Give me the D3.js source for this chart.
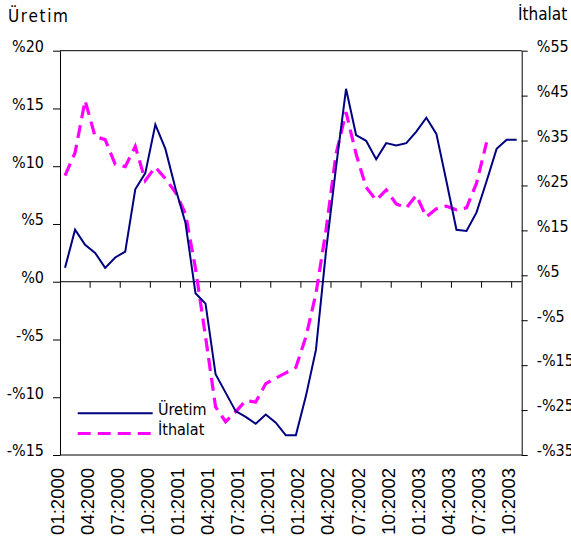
<!DOCTYPE html>
<html>
<head>
<meta charset="utf-8">
<script src="https://cdn.jsdelivr.net/npm/d3@7"></script>
<style>
  html, body { margin: 0; padding: 0; background: #fff; }
  svg { display: block; }
  text { fill: #000; }
  .hf { font-family: "DejaVu Sans Condensed", "DejaVu Sans", "Liberation Sans", sans-serif; }
  .af { font-family: "Liberation Sans", Arial, sans-serif; }
</style>
</head>
<body>
<svg id="chart" width="571" height="541"></svg>
<script>
const months = [
  "01:2000","02:2000","03:2000","04:2000","05:2000","06:2000","07:2000","08:2000","09:2000","10:2000","11:2000","12:2000",
  "01:2001","02:2001","03:2001","04:2001","05:2001","06:2001","07:2001","08:2001","09:2001","10:2001","11:2001","12:2001",
  "01:2002","02:2002","03:2002","04:2002","05:2002","06:2002","07:2002","08:2002","09:2002","10:2002","11:2002","12:2002",
  "01:2003","02:2003","03:2003","04:2003","05:2003","06:2003","07:2003","08:2003","09:2003","10:2003"
];
// Üretim (left axis, %)
const uretim = [
  1.2, 4.5, 3.2, 2.5, 1.2, 2.1, 2.6, 8.0, 9.4, 13.6, 11.5, 8.1,
  5.1, -1.0, -1.9, -8.0, -9.6, -11.2, -11.7, -12.3, -11.5, -12.2, -13.3, -13.3,
  -9.9, -5.9, 2.6, 9.9, 16.7, 12.7, 12.2, 10.6, 12.0, 11.8, 12.0, 13.0,
  14.2, 12.8, 8.7, 4.5, 4.4, 6.0, 8.7, 11.5, 12.3, 12.3
];
// İthalat (right axis, %)
const ithalat = [
  27.2, 32.3, 43.9, 35.9, 35.2, 29.7, 29.2, 33.7, 26.1, 29.1, 26.5, 23.5,
  18.7, 6.5, -8.7, -24.3, -27.6, -25.4, -22.9, -23.2, -19.1, -17.9, -16.7, -15.5,
  -8.7, 0.9, 15.0, 32.0, 41.3, 32.0, 24.6, 21.7, 24.0, 20.9, 20.0, 22.8,
  18.0, 19.8, 20.4, 19.6, 20.0, 25.5, 34.6
];
const leftTicks = [20, 15, 10, 5, 0, -5, -10, -15];
const rightTicks = [55, 45, 35, 25, 15, 5, -5, -15, -25, -35];
const xLabels = ["01:2000","04:2000","07:2000","10:2000","01:2001","04:2001","07:2001","10:2001",
                 "01:2002","04:2002","07:2002","10:2002","01:2003","04:2003","07:2003","10:2003"];
const seriesNames = ["Üretim", "İthalat"];
const leftTitle = "Üretim";
const rightTitle = "İthalat";

const svg = d3.select("#chart");
const L = 60, R = 521.7, T = 50.7, B = 455;

const x = d3.scaleBand().domain(months).range([L, R]).paddingInner(0).paddingOuter(0);
const cx = m => x(m) + x.bandwidth() / 2;
const yL = d3.scaleLinear().domain([-15, 20]).range([B, T]);
const yR = d3.scaleLinear().domain([-35, 55]).range([B, T]);
const fmt = v => v < 0 ? "-%" + (-v) : "%" + v;

// frame top/bottom
svg.append("line").attr("x1", L).attr("x2", R).attr("y1", T).attr("y2", T).attr("stroke", "#000");
svg.append("line").attr("x1", L).attr("x2", R).attr("y1", B).attr("y2", B).attr("stroke", "#000");

// left axis
const gL = svg.append("g").attr("transform", `translate(${L},0)`)
  .call(d3.axisLeft(yL).tickValues(leftTicks).tickFormat(fmt).tickSize(7).tickPadding(9).tickSizeOuter(0));
// right axis
const gR = svg.append("g").attr("transform", `translate(${R},0)`)
  .call(d3.axisRight(yR).tickValues(rightTicks).tickFormat(fmt).tickSize(6).tickPadding(9).tickSizeOuter(0));
[gL, gR].forEach(g => {
  g.attr("font-family", null).attr("font-size", null);
  g.selectAll("path.domain").attr("stroke", "#000").attr("stroke-width", 1);
  g.selectAll(".tick line").attr("stroke", "#000");
  g.selectAll(".tick text").attr("dy", "0.05em").attr("class", "hf").style("font-size", "16px");
});

// zero line with category ticks
const y0 = yL(0);
svg.append("line").attr("x1", L).attr("x2", R).attr("y1", y0).attr("y2", y0).attr("stroke", "#000");
const tickMonths = months.filter((m, i) => i % 3 === 0 && i > 0);
svg.append("g").selectAll("line").data(tickMonths).join("line")
  .attr("x1", d => x(d)).attr("x2", d => x(d)).attr("y1", y0).attr("y2", y0 + 6).attr("stroke", "#000");

// x labels
svg.append("g").selectAll("text").data(xLabels).join("text")
  .attr("class", "af")
  .attr("transform", d => `translate(${x(d) + 3.5},468) rotate(-90)`)
  .attr("text-anchor", "end")
  .style("font-size", "18.5px")
  .text(d => d);

// lines
const lineL = d3.line().x((d, i) => cx(months[i])).y(d => yL(d));
const lineR = d3.line().x((d, i) => cx(months[i])).y(d => yR(d));
svg.append("path").datum(ithalat).attr("d", lineR).attr("fill", "none")
  .attr("stroke", "#FF00FF").attr("stroke-width", 3.2).attr("stroke-dasharray", "13,7");
svg.append("path").datum(uretim).attr("d", lineL).attr("fill", "none")
  .attr("stroke", "#000080").attr("stroke-width", 2);

// titles
svg.append("text").attr("class", "hf").attr("x", 8).attr("y", 21.5).style("font-size", "17px")
  .attr("textLength", 60).attr("lengthAdjust", "spacing").text(leftTitle);
svg.append("text").attr("class", "hf").attr("x", 518).attr("y", 19.5).style("font-size", "17px").text(rightTitle);

// legend
const leg = svg.append("g");
leg.append("line").attr("x1", 77.7).attr("x2", 152.7).attr("y1", 413.3).attr("y2", 413.3)
  .attr("stroke", "#000080").attr("stroke-width", 2);
leg.append("line").attr("x1", 77.7).attr("x2", 152.7).attr("y1", 433.5).attr("y2", 433.5)
  .attr("stroke", "#FF00FF").attr("stroke-width", 3.2).attr("stroke-dasharray", "13,7");
leg.append("text").attr("class", "hf").attr("x", 158).attr("y", 415).style("font-size", "16px").text(seriesNames[0]);
leg.append("text").attr("class", "hf").attr("x", 158).attr("y", 435).style("font-size", "16px").text(seriesNames[1]);
</script>
</body>
</html>
